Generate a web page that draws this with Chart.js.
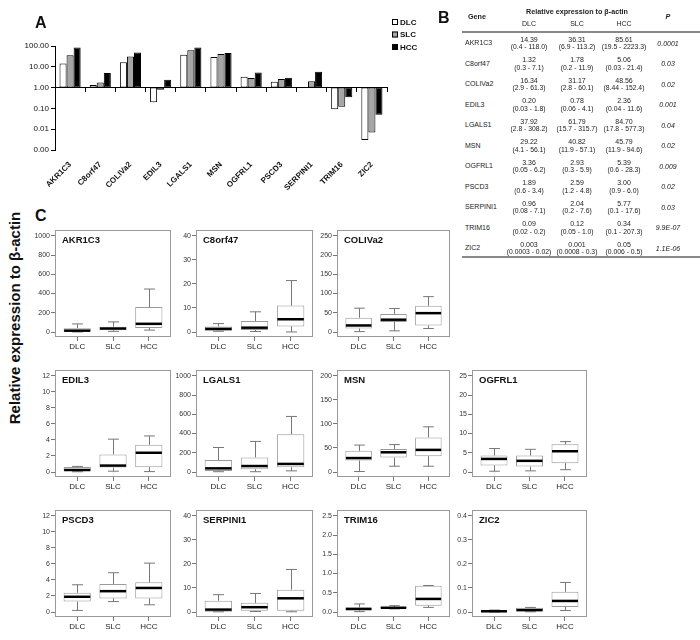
<!DOCTYPE html>
<html>
<head>
<meta charset="utf-8">
<script src="https://cdn.jsdelivr.net/npm/chart.js@4.4.1/dist/chart.umd.min.js"></script>
<style>
  html, body { margin: 0; padding: 0; background: #fff; }
  #page { position: relative; width: 700px; height: 640px; overflow: hidden;
          font-family: "Liberation Sans", Arial, sans-serif; color: #111; }
  canvas { position: absolute; }
  .letter { position: absolute; font-weight: bold; font-size: 16px; line-height: 16px; }
  #ylabel { position: absolute; font-weight: bold; font-size: 15px; white-space: nowrap;
            transform: translate(-50%, -50%) rotate(-90deg); }
  .cell { position: absolute; white-space: nowrap; font-size: 7px; line-height: 8px; color: #222;
          transform: translate(-50%, -50%); }
  .left { transform: translate(0, -50%); }
  .rng { font-size: 6.8px; }
  .hd { font-weight: bold; font-size: 7.2px; }
  .it { font-style: italic; }
  .rule { position: absolute; height: 2px; background: #888; }
</style>
</head>
<body>
<div id="page">
  <canvas id="barA" width="430" height="195" style="left:0;top:0"></canvas>
  <div class="letter" style="left:35px;top:15px">A</div>
  <div class="letter" style="left:438px;top:10px">B</div>
  <div class="letter" style="left:35px;top:208px">C</div>
  <div id="ylabel" style="left:14px;top:318px">Relative expression to β-actin</div>
  <div id="tableB"></div>
  <div id="boxes"></div>
</div>
<script>
// genes and groups
const genes = ['AKR1C3', 'C8orf47', 'COLIVa2', 'EDIL3', 'LGALS1', 'MSN', 'OGFRL1', 'PSCD3', 'SERPINI1', 'TRIM16', 'ZIC2'];
const groups = ['DLC', 'SLC', 'HCC'];

// panel A: median expression, log scale
const barDLC = [14.39, 1.32, 16.34, 0.20, 37.92, 29.22, 3.36, 1.89, 0.96, 0.09, 0.003];
const barSLC = [36.31, 1.78, 31.17, 0.78, 61.79, 40.82, 2.93, 2.59, 2.04, 0.12, 0.007];
const barHCC = [85.61, 5.06, 48.56, 2.36, 84.70, 45.79, 5.39, 3.00, 5.77, 0.34, 0.05];
const logTickLabels = ['0.00', '0.01', '0.10', '1.00', '10.00', '100.00'];
const logTickValues = [0.001, 0.01, 0.1, 1, 10, 100];

// panel B: table
const medDLC = ['14.39', '1.32', '16.34', '0.20', '37.92', '29.22', '3.36', '1.89', '0.96', '0.09', '0.003'];
const medSLC = ['36.31', '1.78', '31.17', '0.78', '61.79', '40.82', '2.93', '2.59', '2.04', '0.12', '0.001'];
const medHCC = ['85.61', '5.06', '48.56', '2.36', '84.70', '45.79', '5.39', '3.00', '5.77', '0.34', '0.05'];
const rangeDLC = ['(0.4 - 118.0)', '(0.3 - 7.1)', '(2.9 - 61.3)', '(0.03 - 1.8)', '(2.8 - 308.2)', '(4.1 - 56.1)',
                  '(0.05 - 6.2)', '(0.6 - 3.4)', '(0.08 - 7.1)', '(0.02 - 0.2)', '(0.0003 - 0.02)'];
const rangeSLC = ['(6.9 - 113.2)', '(0.2 - 11.9)', '(2.8 - 60.1)', '(0.06 - 4.1)', '(15.7 - 315.7)', '(11.9 - 57.1)',
                  '(0.3 - 5.9)', '(1.2 - 4.8)', '(0.2 - 7.6)', '(0.05 - 1.0)', '(0.0008 - 0.3)'];
const rangeHCC = ['(19.5 - 2223.3)', '(0.03 - 21.4)', '(8.44 - 152.4)', '(0.04 - 11.6)', '(17.8 - 577.3)', '(11.9 - 94.6)',
                  '(0.6 - 28.3)', '(0.9 - 6.0)', '(0.1 - 17.6)', '(0.1 - 207.3)', '(0.006 - 0.5)'];
const pValues = ['0.0001', '0.03', '0.02', '0.001', '0.04', '0.02', '0.009', '0.02', '0.03', '9.9E-07', '1.1E-06'];

// panel C: box plots [DLC, SLC, HCC] per gene
const whiskerLow  = [[0.4, 7, 20], [0.3, 0.2, 0.03], [1, 3, 9], [0.03, 0.1, 0.05], [3, 3, 12], [1, 12, 12],
                     [0.2, 0.3, 0.6], [0.2, 1.3, 0.9], [0.08, 0.2, 0.1], [0.01, 0.08, 0.12], [0.0003, 0.0008, 0.006]];
const boxLow      = [[5, 18, 42], [0.5, 0.8, 2.3], [9, 26, 17], [0.12, 0.55, 0.6], [10, 28, 50], [24, 30, 33],
                     [1.7, 1.4, 2.3], [1.3, 1.7, 1.7], [0.15, 0.5, 0.5], [0.04, 0.095, 0.165], [0.0015, 0.002, 0.021]];
const boxMedian   = [[14, 36, 85], [1.3, 1.8, 5.3], [17, 32, 49], [0.25, 0.8, 2.4], [38, 62, 84], [29, 41, 46],
                     [3.4, 2.9, 5.4], [1.9, 2.6, 3.0], [1.0, 2.0, 5.7], [0.08, 0.11, 0.34], [0.003, 0.008, 0.046]];
const boxHigh     = [[40, 55, 260], [2.3, 4.6, 11], [37, 47, 68], [0.62, 2.2, 3.4], [124, 152, 393], [44, 48, 72],
                     [4.3, 4.3, 7.2], [2.4, 3.5, 3.7], [4.7, 3.8, 9.3], [0.12, 0.13, 0.68], [0.005, 0.018, 0.084]];
const whiskerHigh = [[84, 105, 447], [3.5, 8.4, 21.4], [62, 61, 92], [0.7, 4.1, 4.5], [255, 318, 578], [56, 57, 94],
                     [6.1, 5.9, 7.9], [3.4, 4.9, 6.1], [7.2, 7.7, 17.7], [0.21, 0.165, 0.69], [0.008, 0.019, 0.123]];
const yTickLabels = [
  ['0', '200', '400', '600', '800', '1000'],
  ['0', '10', '20', '30', '40'],
  ['0', '50', '100', '150', '200', '250'],
  ['0', '2', '4', '6', '8', '10', '12'],
  ['0', '200', '400', '600', '800', '1000'],
  ['0', '50', '100', '150', '200'],
  ['0', '5', '10', '15', '20', '25'],
  ['0', '2', '4', '6', '8', '10', '12'],
  ['0', '10', '20', '30', '40'],
  ['0.0', '0.5', '1.0', '1.5', '2.0', '2.5'],
  ['0.0', '0.1', '0.2', '0.3', '0.4']
];

const FONT = '"Liberation Sans", Arial, sans-serif';
Chart.defaults.font.family = FONT;

// ---------- panel A ----------
const cornerLegend = {
  id: 'cornerLegend',
  afterDraw(chart) {
    const ctx = chart.ctx;
    ctx.save();
    chart.data.datasets.forEach((ds, i) => {
      const y = 22 + i * 12.5;
      ctx.fillStyle = ds.backgroundColor;
      ctx.fillRect(392, y - 3, 6, 6);
      ctx.strokeStyle = '#000';
      ctx.lineWidth = 1;
      ctx.strokeRect(392.5, y - 2.5, 5, 5);
      ctx.fillStyle = '#111';
      ctx.font = 'bold 8px ' + FONT;
      ctx.textBaseline = 'middle';
      ctx.fillText(ds.label, 400, y + 0.5);
    });
    ctx.restore();
  }
};

const barSet = (label, values, fill) => ({
  label: label,
  data: values.map(v => [1, v]),
  backgroundColor: fill,
  borderColor: '#000',
  borderWidth: 1,
  borderSkipped: false
});

new Chart(document.getElementById('barA'), {
  type: 'bar',
  data: {
    labels: genes,
    datasets: [barSet('DLC', barDLC, '#ffffff'), barSet('SLC', barSLC, '#a6a6a6'), barSet('HCC', barHCC, '#000000')]
  },
  options: {
    responsive: false,
    animation: false,
    categoryPercentage: 0.7,
    barPercentage: 1,
    layout: { padding: { top: 46, right: 43, left: 0, bottom: 0 } },
    plugins: { legend: { display: false }, tooltip: { enabled: false } },
    scales: {
      x: {
        position: { y: 1 },
        ticks: { display: false },
        grid: { drawOnChartArea: false, tickLength: 4, color: '#000', offset: true },
        border: { color: '#000' }
      },
      x2: {
        type: 'category',
        labels: genes,
        position: 'bottom',
        offset: true,
        grid: { display: false },
        border: { display: false },
        ticks: { autoSkip: false, maxRotation: 45, minRotation: 45, padding: 2, color: '#111',
                 font: { size: 8, weight: 'bold' } },
        afterFit: s => { s.height = 45; }
      },
      y: {
        type: 'logarithmic',
        min: 0.001,
        max: 100,
        afterBuildTicks: s => { s.ticks = logTickValues.map(v => ({ value: v })); },
        afterFit: s => { s.width = 55; },
        ticks: { callback: (v, i) => logTickLabels[i], font: { size: 8 }, color: '#111', padding: 2 },
        grid: { drawOnChartArea: false, tickLength: 4, color: '#000' },
        border: { color: '#000' }
      }
    }
  },
  plugins: [cornerLegend]
});

// ---------- panel B ----------
const tableB = document.getElementById('tableB');
function cell(text, x, y, cls) {
  const d = document.createElement('div');
  d.className = 'cell ' + (cls || '');
  d.style.left = x + 'px';
  d.style.top = y + 'px';
  d.textContent = text;
  tableB.appendChild(d);
}
function rule(y) {
  const d = document.createElement('div');
  d.className = 'rule';
  d.style.left = '462px';
  d.style.width = '238px';
  d.style.top = y + 'px';
  tableB.appendChild(d);
}
const colX = [529, 577, 624];
cell('Relative expression to β-actin', 577, 12, 'hd');
cell('Gene', 477, 17, 'hd');
cell('P', 668, 17, 'hd it');
groups.forEach((g, k) => cell(g, colX[k], 23.5));
rule(31);
genes.forEach((g, i) => {
  const y = 39.5 + i * 20.5;
  cell(g, 465, y + 3.8, 'left');
  [medDLC, medSLC, medHCC].forEach((m, k) => cell(m[i], colX[k], y));
  [rangeDLC, rangeSLC, rangeHCC].forEach((r, k) => cell(r[i], colX[k], y + 7.6, 'rng'));
  cell(pValues[i], 668, y + 4, 'it');
});
rule(256);

// ---------- panel C ----------
const colLeft = [55, 196, 337, 472];
const colWidth = [116, 117, 113, 115];
const rowTop = [230, 370, 510];
const frameH = 107;

const framePlugin = {
  id: 'frame',
  afterDatasetsDraw(chart, args, opts) {
    const { ctx, chartArea: a } = chart;
    ctx.save();
    ctx.strokeStyle = '#9a9a9a';
    ctx.lineWidth = 1;
    ctx.strokeRect(Math.round(a.left) + 0.5, Math.round(a.top) + 0.5,
                   Math.round(a.right - a.left) - 1, Math.round(a.bottom - a.top) - 1);
    ctx.fillStyle = '#111';
    ctx.font = 'bold 9.5px ' + FONT;
    ctx.textBaseline = 'middle';
    ctx.fillText(opts.title, a.left + 7, a.top + 10.5);
    ctx.restore();
  }
};

const whiskerPlugin = {
  id: 'whiskers',
  afterDatasetsDraw(chart, args, opts) {
    const { ctx } = chart;
    const y = chart.scales.y;
    const g = opts.gene;
    ctx.save();
    chart.getDatasetMeta(0).data.forEach((bar, k) => {
      const cx = Math.round(bar.x) + 0.5;
      const hw = bar.width / 2;
      const cap = hw * 0.4;
      const pLo = y.getPixelForValue(whiskerLow[g][k]);
      const pQ1 = y.getPixelForValue(boxLow[g][k]);
      const pQ3 = y.getPixelForValue(boxHigh[g][k]);
      const pHi = y.getPixelForValue(whiskerHigh[g][k]);
      ctx.strokeStyle = '#777';
      ctx.lineWidth = 1;
      ctx.beginPath();
      ctx.moveTo(cx, pQ3); ctx.lineTo(cx, pHi);
      ctx.moveTo(cx - cap, pHi); ctx.lineTo(cx + cap, pHi);
      ctx.moveTo(cx, pQ1); ctx.lineTo(cx, pLo);
      ctx.moveTo(cx - cap, pLo); ctx.lineTo(cx + cap, pLo);
      ctx.stroke();
      const pMed = y.getPixelForValue(boxMedian[g][k]);
      ctx.strokeStyle = '#000';
      ctx.lineWidth = 2.5;
      ctx.beginPath();
      ctx.moveTo(bar.x - hw + 0.5, pMed); ctx.lineTo(bar.x + hw - 0.5, pMed);
      ctx.stroke();
    });
    ctx.restore();
  }
};

const boxes = document.getElementById('boxes');
genes.forEach((gene, g) => {
  const row = g < 3 ? 0 : 1 + Math.floor((g - 3) / 4);
  const col = g < 3 ? g : (g - 3) % 4;
  const fw = colWidth[col];
  const cv = document.createElement('canvas');
  cv.width = 30 + fw + 6;
  cv.height = 5 + frameH + 26;
  cv.style.left = (colLeft[col] - 30) + 'px';
  cv.style.top = (rowTop[row] - 5) + 'px';
  boxes.appendChild(cv);

  const labels = yTickLabels[g];
  const top = Number(labels[labels.length - 1]);

  new Chart(cv, {
    type: 'bar',
    data: {
      datasets: [{
        data: groups.map((grp, k) => ({ x: k, y: [boxLow[g][k], boxHigh[g][k]] })),
        backgroundColor: '#ffffff',
        borderColor: '#9a9a9a',
        borderWidth: 1,
        borderSkipped: false,
        barPercentage: 0.76,
        categoryPercentage: 1
      }]
    },
    options: {
      responsive: false,
      animation: false,
      layout: { padding: { left: 0, top: 5, right: 6, bottom: 0 } },
      plugins: {
        legend: { display: false },
        tooltip: { enabled: false },
        frame: { title: gene },
        whiskers: { gene: g }
      },
      scales: {
        x: {
          type: 'linear',
          min: -0.62,
          max: 2.62,
          offset: false,
          afterBuildTicks: s => { s.ticks = groups.map((grp, k) => ({ value: k })); },
          afterFit: s => { s.height = 26; },
          ticks: { callback: v => groups[v], autoSkip: false, maxRotation: 0, padding: 1,
                   color: '#222', font: { size: 8 } },
          grid: { drawOnChartArea: false, tickLength: 4, color: '#777', offset: false },
          border: { display: false }
        },
        y: {
          min: -0.052 * top,
          max: 1.059 * top,
          afterBuildTicks: s => { s.ticks = labels.map(t => ({ value: Number(t) })); },
          afterFit: s => { s.width = 30; },
          ticks: { callback: (v, i) => labels[i], padding: 1, color: '#333', font: { size: 7 } },
          grid: { drawOnChartArea: false, tickLength: 4, color: '#777' },
          border: { display: false }
        }
      }
    },
    plugins: [framePlugin, whiskerPlugin]
  });
});
</script>
</body>
</html>
